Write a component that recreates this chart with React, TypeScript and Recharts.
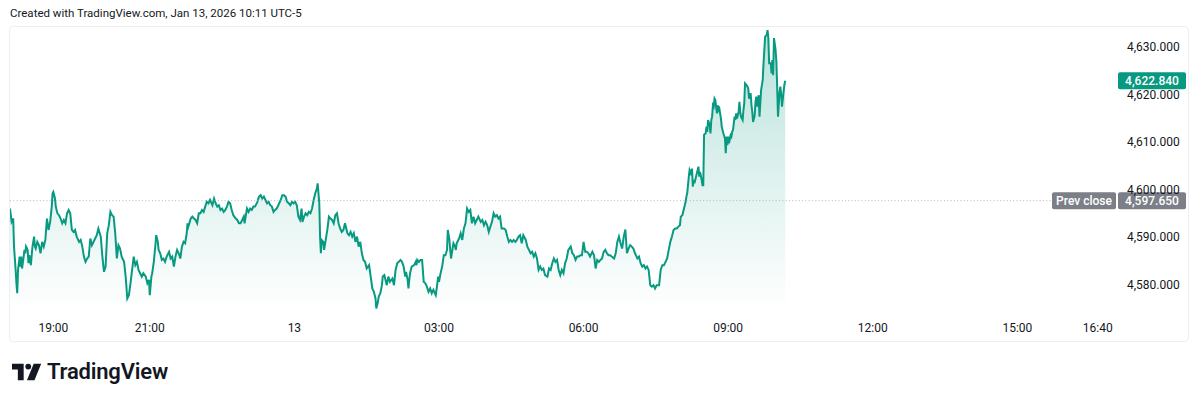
import React from 'react';
import { ComposedChart, Area, XAxis, YAxis, ReferenceLine, Label } from 'recharts';

// minutes since 18:00 (Jan 12) of sampled 1-minute bars
const minutes = [
  6, 8, 10, 11, 13, 14, 15, 16, 18, 19, 20, 21, 23, 24, 25, 26, 28, 29, 30, 32, 33, 34, 36, 37, 38, 40, 42, 44, 46, 48, 50, 52, 54, 56, 58, 59, 60, 62, 63, 65, 67, 69, 71, 73, 75, 77, 79, 81, 83, 85, 87, 89, 92, 94, 96, 98, 100, 102, 104, 106, 108, 110, 112, 114, 116, 119, 121, 123, 125, 127, 129, 131, 133, 135, 137, 139, 141, 143, 145, 148, 150, 152, 154, 156, 158, 160, 162, 164, 166, 168, 170, 172, 175, 177, 179, 180, 182, 183, 185, 187, 188, 190, 191, 193, 195, 197, 199, 201, 204, 206, 208, 210, 212, 214, 216, 218, 220, 222, 224, 226, 227, 228, 231, 233, 235, 237, 239, 241,
  243, 245, 247, 249, 251, 253, 255, 258, 260, 262, 264, 266, 268, 270, 272, 274, 276, 278, 280, 282, 284, 287, 289, 291, 293, 295, 297, 298, 300, 301, 303, 305, 307, 309, 311, 314, 316, 318, 320, 322, 324, 326, 328, 330, 332, 334, 336, 338, 340, 343, 345, 347, 349, 351, 353, 355, 357, 359, 361, 363, 365, 367, 369, 370, 372, 374, 376, 378, 380, 382, 384, 386, 388, 389, 391, 392, 393, 394, 396, 397, 399, 401, 403, 405, 407, 409, 411, 413, 415, 417, 419, 421, 423, 426, 428, 430, 432, 434, 436, 438, 440, 442, 444, 446, 448, 450, 453, 455, 457, 459, 461, 462, 464, 465, 467, 469, 470, 472, 473, 475, 477, 479, 482, 484, 486, 488, 490,
  492, 494, 496, 498, 499, 501, 502, 503, 504, 506, 509, 511, 512, 513, 515, 517, 519, 521, 523, 525, 527, 529, 531, 533, 536, 538, 539, 540, 542, 544, 546, 548, 550, 551, 553, 554, 555, 556, 558, 560, 561, 562, 565, 567, 569, 571, 573, 575, 577, 579, 581, 583, 585, 587, 589, 592, 594, 596, 598, 600, 602, 604, 606, 608, 610, 612, 614, 616, 618, 621, 623, 625, 627, 629, 631, 633, 635, 637, 639, 641, 643, 645, 648, 650, 652, 654, 656, 658, 660, 662, 664, 666, 668, 670, 672, 675, 677, 679, 681, 683, 685, 687, 689, 691, 693, 695, 697, 699, 701, 704, 706, 708, 710, 712, 714, 716, 718, 720, 722, 724, 726, 728, 731, 733, 735, 737, 739,
  741, 743, 745, 747, 749, 751, 753, 755, 758, 760, 762, 764, 766, 768, 770, 772, 774, 776, 778, 780, 782, 784, 787, 789, 791, 793, 795, 797, 799, 801, 803, 805, 807, 809, 811, 814, 816, 818, 820, 822, 824, 826, 828, 830, 832, 834, 836, 838, 840,
  841, 843, 845, 847, 848, 849, 851, 852, 853, 854, 855, 856, 857, 858, 860, 861, 863, 864, 865, 867, 868, 869, 870, 872, 873, 874, 875, 877, 878, 879, 880, 881, 882, 883, 884, 886, 887, 888, 889, 891, 892, 894, 896, 897, 898, 899, 900, 901, 903, 904, 905, 906, 908, 909, 910, 911, 913, 914, 915, 916, 918, 919, 920, 921, 923, 924, 925, 926, 928, 929, 930, 931, 933, 934, 935, 936, 938, 939, 940, 941, 943, 944, 945, 946, 948, 949, 950, 951, 953, 954, 955, 956, 957, 959, 960, 961, 962, 964, 965, 966, 967, 969, 970, 971,
];

const prices = [
  4596.0, 4593.2, 4593.9, 4588.0, 4583.1, 4580.3, 4578.2, 4583.1, 4585.9, 4583.8, 4585.9, 4583.4, 4585.9, 4587.3, 4586.6, 4588.0, 4587.3, 4584.5, 4586.2, 4584.1, 4586.2, 4588.0, 4590.1, 4588.0, 4587.6, 4589.0, 4588.3, 4586.6, 4589.0, 4588.0, 4589.4, 4593.9, 4591.5, 4593.2, 4596.4, 4599.2, 4599.5, 4598.1, 4596.4, 4595.0, 4594.6, 4593.9, 4592.9, 4593.6, 4592.9, 4595.0, 4595.7, 4595.0, 4591.5, 4591.1, 4591.5, 4590.1, 4589.0, 4589.4, 4588.0, 4585.9, 4584.8, 4585.5, 4585.9, 4589.7, 4588.3, 4589.0, 4589.7, 4590.4, 4591.8, 4590.1, 4585.9, 4582.7, 4583.8, 4590.8, 4592.5, 4595.3, 4594.6, 4594.3, 4590.8, 4585.5, 4588.3, 4587.6, 4585.9, 4584.8, 4581.7, 4577.1, 4577.8, 4580.3, 4583.1, 4585.9, 4584.1, 4584.8, 4583.1, 4582.4, 4581.7, 4582.4, 4581.7, 4580.3, 4581.0, 4577.8, 4581.7, 4582.4, 4584.8, 4588.3, 4590.4, 4589.0, 4587.3, 4586.6, 4585.2, 4585.5, 4584.8, 4585.9, 4586.9, 4585.5, 4585.9, 4583.8, 4585.9, 4587.3, 4586.6, 4585.5, 4588.0, 4589.0, 4588.7, 4590.8, 4592.9, 4592.2, 4593.9, 4594.3, 4593.9, 4593.6, 4592.9, 4595.0,
  4595.0, 4595.7, 4595.3, 4596.4, 4597.4, 4597.1, 4597.8, 4596.7, 4598.1, 4597.1, 4596.4, 4596.7, 4595.7, 4596.0, 4595.3, 4595.7, 4596.4, 4597.4, 4597.1, 4595.7, 4594.6, 4593.9, 4593.6, 4592.9, 4592.9, 4593.6, 4594.3, 4592.9, 4595.0, 4596.0, 4595.3, 4596.0, 4595.7, 4596.4, 4596.4, 4597.4, 4598.5, 4598.8, 4598.1, 4598.5, 4597.8, 4597.1, 4597.4, 4596.7, 4596.4, 4595.3, 4595.7, 4596.0, 4596.7, 4597.8, 4598.8, 4598.8, 4598.5, 4597.4, 4597.1, 4596.7, 4597.4, 4597.1, 4597.4, 4596.7, 4594.3, 4593.6, 4596.0, 4593.2, 4594.3, 4595.0, 4594.6, 4595.3, 4595.0, 4596.0, 4597.8, 4599.2, 4600.2, 4601.3, 4597.1, 4590.1, 4586.6, 4589.4, 4589.0, 4587.3, 4589.4, 4591.5, 4594.3, 4593.9, 4593.6, 4592.9, 4594.6, 4595.0, 4592.9, 4591.8, 4591.1, 4591.5, 4592.9, 4590.8, 4590.4, 4591.1, 4590.1, 4590.8, 4589.0, 4590.1, 4588.0, 4589.0, 4586.6, 4585.2, 4584.8, 4583.4, 4584.1, 4581.7, 4579.2, 4578.5, 4577.1, 4575.0, 4576.4, 4577.5, 4578.2, 4579.9, 4581.7, 4582.0, 4581.3, 4579.9, 4581.7, 4580.6, 4581.3, 4579.9, 4583.1, 4584.5, 4584.8,
  4585.2, 4584.8, 4583.8, 4581.7, 4582.7, 4581.0, 4579.2, 4581.0, 4582.4, 4583.8, 4584.1, 4584.8, 4584.1, 4585.2, 4584.8, 4585.2, 4585.2, 4580.6, 4580.3, 4579.6, 4578.5, 4579.2, 4578.2, 4578.9, 4577.8, 4580.3, 4581.7, 4580.6, 4582.4, 4583.8, 4586.2, 4586.2, 4587.3, 4591.5, 4589.4, 4587.3, 4585.5, 4586.6, 4588.7, 4588.0, 4587.3, 4588.7, 4589.7, 4590.8, 4589.4, 4591.8, 4592.9, 4596.0, 4595.3, 4595.7, 4592.9, 4594.3, 4592.9, 4593.6, 4594.3, 4593.2, 4593.6, 4592.5, 4593.2, 4592.5, 4591.1, 4592.2, 4593.2, 4595.0, 4594.3, 4594.6, 4593.9, 4594.3, 4591.8, 4591.8, 4591.5, 4590.1, 4589.0, 4589.4, 4589.0, 4589.4, 4589.0, 4589.4, 4590.1, 4590.4, 4588.7, 4590.4, 4589.4, 4588.0, 4587.3, 4586.6, 4586.9, 4585.9, 4586.6, 4585.5, 4583.1, 4583.8, 4583.1, 4583.4, 4582.0, 4581.7, 4583.4, 4583.1, 4584.5, 4585.5, 4584.8, 4585.2, 4583.1, 4582.0, 4583.1, 4582.4, 4584.5, 4585.5, 4587.3, 4588.0, 4586.6, 4586.2, 4585.2, 4585.9, 4585.9, 4586.2, 4586.2, 4589.0, 4586.9, 4586.9, 4586.6, 4585.9, 4586.9, 4586.2, 4583.4, 4585.2, 4584.8,
  4585.2, 4585.5, 4586.9, 4587.3, 4586.6, 4586.2, 4586.2, 4585.9, 4585.5, 4586.6, 4589.0, 4590.1, 4588.7, 4587.6, 4590.1, 4591.6, 4586.6, 4587.6, 4588.3, 4588.0, 4587.6, 4586.6, 4585.5, 4585.9, 4584.5, 4583.8, 4584.1, 4583.4, 4583.8, 4583.1, 4579.9, 4579.6, 4579.9, 4579.2, 4579.9, 4579.9, 4583.1, 4584.1, 4584.1, 4584.8, 4585.5, 4587.3, 4589.0, 4590.1, 4591.5, 4591.8, 4591.8, 4592.2, 4592.5,
  4594.3, 4594.6, 4596.0, 4597.4, 4598.5, 4599.2, 4602.7, 4604.1, 4603.7, 4603.0, 4604.4, 4600.6, 4602.0, 4601.3, 4602.7, 4603.4, 4604.8, 4602.7, 4603.7, 4602.0, 4600.9, 4600.9, 4611.5, 4611.8, 4613.2, 4612.1, 4614.6, 4613.5, 4611.8, 4614.6, 4615.3, 4617.7, 4617.4, 4619.1, 4618.8, 4616.0, 4617.7, 4616.7, 4617.0, 4614.9, 4613.2, 4611.8, 4610.7, 4607.6, 4611.1, 4609.3, 4611.1, 4609.7, 4611.4, 4611.1, 4612.1, 4612.5, 4615.3, 4614.6, 4616.0, 4614.9, 4616.3, 4618.4, 4616.3, 4615.3, 4614.6, 4616.7, 4618.1, 4622.3, 4621.9, 4621.6, 4621.2, 4619.1, 4620.2, 4617.7, 4616.3, 4614.2, 4615.6, 4618.4, 4619.5, 4617.4, 4619.8, 4615.3, 4618.1, 4620.9, 4623.0, 4626.5, 4629.3, 4632.1, 4632.5, 4633.5, 4631.8, 4626.5, 4626.5, 4624.4, 4627.2, 4624.0, 4631.8, 4629.3, 4626.9, 4621.6, 4615.3, 4620.6, 4621.6, 4619.9, 4617.4, 4620.6, 4622.0, 4622.84,
];

const tickMinutes = [60, 180, 360, 540, 720, 900, 1080, 1260, 1360];
const tickLabels = ['19:00', '21:00', '13', '03:00', '06:00', '09:00', '12:00', '15:00', '16:40'];
const priceTicks = [4580, 4590, 4600, 4610, 4620, 4630];
const prevClose = 4597.65;
const lastPrice = 4622.84;
const headerText = 'Created with TradingView.com, Jan 13, 2026 10:11 UTC-5';
const brandText = 'TradingView';
const prevCloseText = 'Prev close';

const xDomain = [6, 1375.3];
const yDomain = [4574.26, 4634.14];

const LINE = '#089981';
const GREY_BADGE = '#7c7f87';
const FONT = 'Roboto, "Liberation Sans", sans-serif';

const data = minutes.map((m, i) => ({ m, price: prices[i] }));

const fmtPrice = (v: number) =>
  v.toLocaleString('en-US', { minimumFractionDigits: 3, maximumFractionDigits: 3 });

const fmtTime = (v: number) => {
  const i = tickMinutes.indexOf(v);
  return i >= 0 ? tickLabels[i] : '';
};

const makeBadge = (value: number, bg: string, withPrev: boolean) => (props: any) => {
  const vb = props.viewBox || {};
  const x = (vb.x ?? 0) + (vb.width ?? 0) + 8;
  const y = vb.y ?? 0;
  const h = 17;
  return (
    <g>
      {withPrev && (
        <g>
          <rect x={x - 66} y={y - h / 2} width={64} height={h} rx={2} fill={bg} />
          <text x={x - 34} y={y} textAnchor="middle" dominantBaseline="central" fill="#fff" fontSize={12} fontFamily={FONT} fontWeight={500}>
            {prevCloseText}
          </text>
        </g>
      )}
      <rect x={x} y={y - h / 2} width={68} height={h} rx={2} fill={bg} />
      <text x={x + 34} y={y} textAnchor="middle" dominantBaseline="central" fill="#fff" fontSize={12} fontFamily={FONT} fontWeight={500}>
        {fmtPrice(value)}
      </text>
    </g>
  );
};

export default function App() {
  return (
    <div style={{ position: 'absolute', left: 0, top: 0, width: 1200, height: 401, background: '#fff', overflow: 'hidden', fontFamily: FONT }}>
      <div style={{ position: 'absolute', left: 10, top: 5, fontSize: 11.5, color: '#131722', lineHeight: '16px', whiteSpace: 'nowrap' }}>
        {headerText}
      </div>
      <div style={{ position: 'absolute', left: 9, top: 26, width: 1178, height: 314, border: '1px solid #eceef2', borderRadius: 4 }} />
      <div style={{ position: 'absolute', left: 0, top: 0 }}>
        <ComposedChart width={1200} height={401} data={data} margin={{ top: 27, right: 0, bottom: 59, left: 10 }}>
          <defs>
            <linearGradient id="fillGrad" x1="0" y1="0" x2="0" y2="1">
              <stop offset="0%" stopColor={LINE} stopOpacity={0.28} />
              <stop offset="100%" stopColor={LINE} stopOpacity={0.0} />
            </linearGradient>
          </defs>
          <XAxis
            dataKey="m"
            type="number"
            domain={xDomain}
            allowDataOverflow
            ticks={tickMinutes}
            interval={0}
            tickFormatter={fmtTime}
            axisLine={false}
            tickLine={false}
            tickSize={0}
            tickMargin={11}
            height={30}
            tick={{ fontSize: 12, fill: '#131722', fontFamily: FONT }}
          />
          <YAxis
            orientation="right"
            type="number"
            domain={yDomain}
            allowDataOverflow
            ticks={priceTicks}
            interval={0}
            tickFormatter={fmtPrice}
            axisLine={false}
            tickLine={false}
            tickSize={0}
            tickMargin={17}
            width={90}
            tick={{ fontSize: 12, fill: '#131722', fontFamily: FONT, textAnchor: 'start' }}
          />
          <ReferenceLine y={prevClose} stroke="#b2b5be" strokeDasharray="1 2.3" strokeWidth={1} />
          <Area
            type="linear"
            dataKey="price"
            stroke={LINE}
            strokeWidth={2}
            fill="url(#fillGrad)"
            fillOpacity={1}
            dot={false}
            activeDot={false}
            isAnimationActive={false}
          />
          <ReferenceLine y={prevClose} stroke="none">
            <Label content={makeBadge(prevClose, GREY_BADGE, true)} />
          </ReferenceLine>
          <ReferenceLine y={lastPrice} stroke="none">
            <Label content={makeBadge(lastPrice, LINE, false)} />
          </ReferenceLine>
        </ComposedChart>
      </div>
      <div style={{ position: 'absolute', left: 12, top: 362, display: 'flex', alignItems: 'center' }}>
        <svg width={30} height={18} viewBox="0 0 36 20">
          <path d="M0 0 H14 V20 H7 V7 H0 Z" fill="#131722" />
          <circle cx={19.5} cy={3.5} r={3.5} fill="#131722" />
          <path d="M26 0 H35 L27 20 H18 Z" fill="#131722" />
        </svg>
        <span style={{ marginLeft: 5, fontSize: 22, fontWeight: 600, color: '#131722', letterSpacing: -0.2, lineHeight: '20px' }}>{brandText}</span>
      </div>
    </div>
  );
}
